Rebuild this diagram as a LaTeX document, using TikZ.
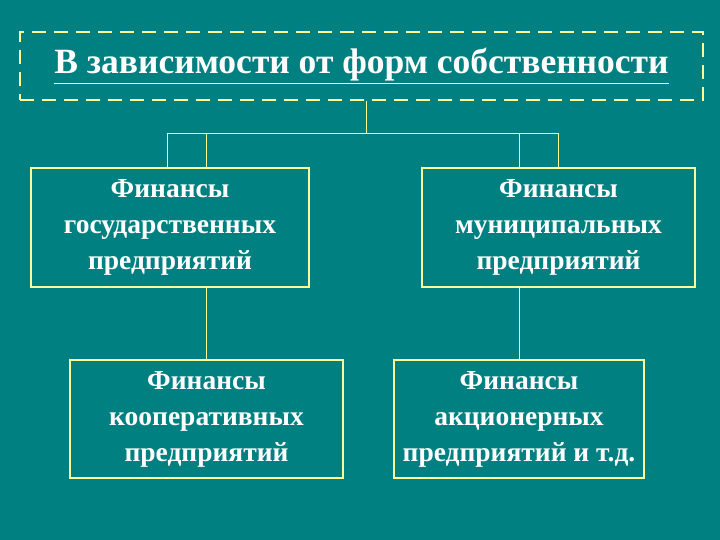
\documentclass[tikz,border=0pt]{standalone}
\usepackage{fontspec}
\setmainfont{Liberation Serif}
\usetikzlibrary{positioning}
\definecolor{bg}{HTML}{008080}
\definecolor{ln}{HTML}{FFFF99}
\begin{document}
\begin{tikzpicture}[x=1pt,y=-1pt,
  box/.style={draw=ln,line width=2.5pt,text=white,font=\bfseries\fontsize{27.5}{36}\selectfont,align=center,inner sep=0pt},
  conn/.style={draw=ln,line width=0.8pt}]
\fill[bg] (0,0) rectangle (720,540);
\useasboundingbox (0,0) rectangle (720,540);
\node[draw=ln,dashed,dash pattern=on 14pt off 8pt,line width=2.5pt,minimum width=683pt,minimum height=68pt,text=white,font=\bfseries\fontsize{35.5}{40}\selectfont] (t) at (361.5,66) {\underline{В зависимости от форм собственности}};
\node[box,minimum width=278pt,minimum height=119pt] (a) at (170,227.5) {Финансы\\государственных\\предприятий};
\node[box,minimum width=273pt,minimum height=119pt] (b) at (558.5,227.5) {Финансы\\муниципальных\\предприятий};
\node[box,minimum width=273pt,minimum height=118pt] (c) at (206.5,419) {Финансы\\кооперативных\\предприятий};
\node[box,minimum width=250pt,minimum height=118pt] (d) at (519,419) {Финансы\\акционерных\\предприятий и т.д.};
\coordinate (j) at (366,133);
\draw[conn] (t.south -| j) -- (j);
\draw[conn] (167,168) -- (167,133) -- (558,133) -- (558,168);
\draw[conn] (206,168) -- (206,133);
\draw[conn] (519,168) -- (519,133);
\draw[conn] (a.south -| c) -- (c.north);
\draw[conn] (b.south -| d) -- (d.north);
\end{tikzpicture}
\end{document}
